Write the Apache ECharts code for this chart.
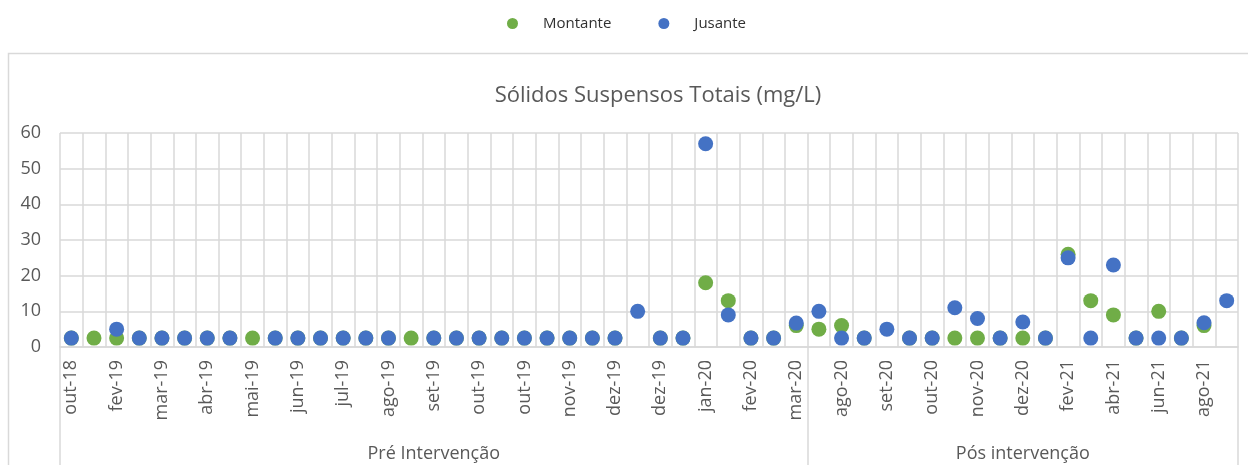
<!DOCTYPE html>
<html>
<head>
<meta charset="utf-8">
<script src="https://cdn.jsdelivr.net/npm/echarts@6/dist/echarts.min.js"></script>
<style>
  html, body { margin: 0; padding: 0; background: #fff; }
  #chart { width: 1248px; height: 465px; }
</style>
</head>
<body>
<div id="chart"></div>
<script>
// Sampling dates (every other one is labelled on the axis)
const categories = [
  'out-18', 'jan-19', 'fev-19', 'fev-19', 'mar-19', 'mar-19', 'abr-19', 'abr-19',
  'mai-19', 'mai-19', 'jun-19', 'jun-19', 'jul-19', 'jul-19', 'ago-19', 'ago-19',
  'set-19', 'set-19', 'out-19', 'out-19', 'out-19', 'nov-19', 'nov-19', 'nov-19',
  'dez-19', 'dez-19', 'dez-19', 'jan-20', 'jan-20', 'fev-20', 'fev-20', 'mar-20',
  'mar-20',
  'jul-20', 'ago-20', 'ago-20', 'set-20', 'set-20', 'out-20', 'out-20', 'nov-20',
  'nov-20', 'dez-20', 'jan-21', 'fev-21', 'mar-21', 'abr-21', 'mai-21', 'jun-21',
  'jul-21', 'ago-21', 'set-21'
];

// Period groups and how many samples each one holds
const groupNames = ['Pré Intervenção', 'Pós intervenção'];
const groupSizes = [33, 19];

// Sólidos Suspensos Totais (mg/L)
const montante = [
  2.5, 2.5, 2.5, 2.5, 2.5, 2.5, 2.5, 2.5, 2.5, 2.5, 2.5, 2.5, 2.5, 2.5, 2.5, 2.5,
  2.5, 2.5, 2.5, 2.5, 2.5, 2.5, 2.5, 2.5, 2.5, null, 2.5, 2.5, 18, 13, 2.5, 2.5,
  6,
  5, 6, 2.5, null, 2.5, 2.5, 2.5, 2.5, 2.5, 2.5, 2.5, 26, 13, 9, 2.5, 10,
  2.5, 6, null
];
const jusante = [
  2.5, null, 5, 2.5, 2.5, 2.5, 2.5, 2.5, null, 2.5, 2.5, 2.5, 2.5, 2.5, 2.5, null,
  2.5, 2.5, 2.5, 2.5, 2.5, 2.5, 2.5, 2.5, 2.5, 10, 2.5, 2.5, 57, 9, 2.5, 2.5,
  6.7,
  10, 2.5, 2.5, 5, 2.5, 2.5, 11, 8, 2.5, 7, 2.5, 25, 2.5, 23, 2.5, 2.5,
  2.5, 6.8, 13
];

const yTicks = { min: 0, max: 60, interval: 10 };

// Second-level axis: half-step positions so each group label sits at its centre
// and the group boundaries get a divider tick.
const halfSteps = [];
const groupLabelAt = {};
const boundaryAt = new Set([0]);
let start = 0;
groupSizes.forEach((n, g) => {
  groupLabelAt[2 * start + n] = groupNames[g]; // centre of the group, in half steps
  start += n;
  boundaryAt.add(start * 2);
});
for (let j = 0; j <= categories.length * 2; j++) {
  halfSteps.push(groupLabelAt[j] || '');
}

const FONT = "'Open Sans', 'Noto Sans', sans-serif";
const GRID_COLOR = '#d9d9d9';
const TEXT_COLOR = '#595959';

const chart = echarts.init(document.getElementById('chart'), null, { renderer: 'canvas' });

chart.setOption({
  animation: false,
  backgroundColor: '#ffffff',
  textStyle: { fontFamily: FONT },
  graphic: [{
    type: 'rect',
    silent: true,
    z: -10,
    shape: { x: 8.5, y: 53.5, width: 1260, height: 440 },
    style: { fill: 'none', stroke: GRID_COLOR, lineWidth: 1.5 }
  }],
  title: {
    text: 'Sólidos Suspensos Totais (mg/L)',
    left: 653,
    top: 80,
    textAlign: 'center',
    textStyle: { fontFamily: FONT, fontSize: 22, fontWeight: 'normal', color: TEXT_COLOR }
  },
  legend: {
    top: 11,
    left: 502,
    icon: 'circle',
    itemWidth: 11,
    itemHeight: 11,
    itemGap: 47,
    textStyle: {
      fontFamily: FONT, fontSize: 15, fontWeight: 'normal', color: '#303030',
      padding: [0, 0, 0, 20]
    },
    data: ['Montante', 'Jusante']
  },
  grid: { left: 60, right: 10, top: 133, bottom: 118, containLabel: false },
  xAxis: [{
    type: 'category',
    data: categories,
    boundaryGap: true,
    axisLine: { show: true, lineStyle: { color: GRID_COLOR, width: 1.5 } },
    axisTick: { show: false },
    splitLine: { show: true, interval: 0, lineStyle: { color: GRID_COLOR, width: 1.5 } },
    axisLabel: {
      interval: 1,
      rotate: 90,
      margin: 13,
      fontFamily: FONT,
      fontSize: 18,
      color: TEXT_COLOR
    }
  }, {
    type: 'category',
    data: halfSteps,
    position: 'bottom',
    boundaryGap: false,
    axisLine: { show: false },
    axisTick: {
      show: true,
      length: 120,
      interval: (idx) => boundaryAt.has(idx),
      lineStyle: { color: GRID_COLOR, width: 1.5 }
    },
    splitLine: { show: false },
    axisLabel: {
      interval: (idx, val) => val !== '',
      margin: 98,
      fontFamily: FONT,
      fontSize: 18,
      color: TEXT_COLOR,
      verticalAlign: 'top'
    }
  }],
  yAxis: {
    type: 'value',
    min: yTicks.min,
    max: yTicks.max,
    interval: yTicks.interval,
    axisLine: { show: false },
    axisTick: { show: false },
    splitLine: { show: true, lineStyle: { color: GRID_COLOR, width: 1.5 } },
    axisLabel: { margin: 19, fontFamily: FONT, fontSize: 18, color: TEXT_COLOR }
  },
  series: [{
    name: 'Montante',
    type: 'scatter',
    xAxisIndex: 0,
    symbol: 'circle',
    symbolSize: 15,
    itemStyle: { color: '#70AD47', opacity: 1 },
    data: montante
  }, {
    name: 'Jusante',
    type: 'scatter',
    xAxisIndex: 0,
    symbol: 'circle',
    symbolSize: 15,
    itemStyle: { color: '#4472C4', opacity: 1 },
    data: jusante
  }]
});
</script>
</body>
</html>
